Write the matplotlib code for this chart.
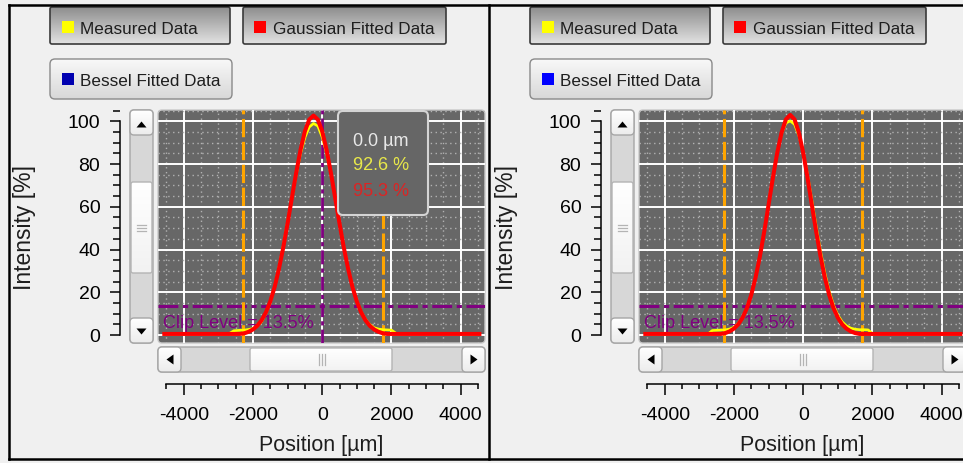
import matplotlib
matplotlib.use('Agg')
import matplotlib.pyplot as plt
import numpy as np
from matplotlib.patches import FancyBboxPatch, Polygon
from matplotlib.colors import LinearSegmentedColormap
from matplotlib.ticker import MultipleLocator

plt.rcParams['font.family'] = ['Liberation Sans', 'DejaVu Sans']
plt.rcParams['axes.unicode_minus'] = False

# Canvas size in pixels
W, H = 963, 463
DPI = 100

PANEL_BG = '#f0f0f0'
PLOT_BG = '#676767'
TEXT = '#1e1e1e'
YELLOW = '#ffff00'
RED = '#ff0000'
PURPLE = '#800080'
ORANGE = '#ffa500'

# Legend entries
legend_labels = ['Measured Data', 'Gaussian Fitted Data', 'Bessel Fitted Data']

# Axis ticks
x_ticks = [-4000, -2000, 0, 2000, 4000]
y_ticks = [0, 20, 40, 60, 80, 100]
XLIM = (-4742, 4702)
YLIM = (-3.74, 105.3)

clip_level = 13.5
cursor_pos = 0.0

# Left profile: fitted gaussian
pos_fit_l = [-4560, -2375, -2250, -2125, -2000, -1875, -1750, -1625, -1500, -1375,
             -1250, -1125, -1000, -875, -750, -625, -500, -375, -250, -125,
             0, 125, 250, 375, 500, 625, 750, 875, 1000, 1125,
             1250, 1375, 1500, 1625, 1750, 1875, 4540]
gauss_l = [0.5, 0.5, 0.8, 1.5, 2.6, 4.3, 6.9, 10.6, 15.7, 22.4,
           30.9, 40.9, 52.2, 64.2, 76.0, 86.7, 95.3, 100.8, 102.7, 100.8,
           95.3, 86.7, 76.0, 64.2, 52.2, 40.9, 30.9, 22.4, 15.7, 10.6,
           6.9, 4.3, 2.6, 1.5, 0.8, 0.5, 0.5]

# Left profile: measured
pos_meas_l = [-4560, -2700, -2550, -2375, -2250, -2125, -2000, -1875, -1750, -1625,
              -1500, -1375, -1250, -1125, -1000, -875, -750, -625, -500, -375,
              -250, -125, 0, 125, 250, 375, 500, 625, 750, 875,
              1000, 1125, 1250, 1375, 1500, 1625, 1750, 1875, 2000, 2150, 4540]
meas_l = [0.4, 0.5, 2.0, 2.2, 2.3, 2.6, 3.0, 4.1, 6.3, 10.2,
          15.4, 22.6, 31.5, 41.6, 52.8, 64.0, 75.2, 85.0, 92.4, 97.3,
          99.0, 97.8, 92.6, 85.3, 75.6, 64.4, 52.6, 41.3, 31.2, 22.8,
          15.9, 10.9, 7.3, 4.9, 3.4, 2.8, 2.5, 2.4, 2.3, 0.6, 0.4]

# Right profile: fitted gaussian
pos_fit_r = [-4560, -2500, -2375, -2250, -2125, -2000, -1875, -1750, -1625, -1500,
             -1375, -1250, -1125, -1000, -875, -750, -625, -500, -375, -250,
             -125, 0, 125, 250, 375, 500, 625, 750, 875, 1000,
             1125, 1250, 1375, 1500, 1625, 1750, 4540]
gauss_r = [0.5, 0.5, 0.5, 0.9, 1.7, 3.0, 5.0, 8.1, 12.6, 18.8,
           26.9, 36.8, 48.4, 60.9, 73.6, 85.3, 94.7, 100.9, 103.0, 100.9,
           94.7, 85.3, 73.6, 60.9, 48.4, 36.8, 26.9, 18.8, 12.6, 8.1,
           5.0, 3.0, 1.7, 0.9, 0.5, 0.5, 0.5]

# Right profile: measured
pos_meas_r = [-4560, -2750, -2625, -2500, -2375, -2250, -2125, -2000, -1875, -1750,
              -1625, -1500, -1375, -1250, -1125, -1000, -875, -750, -625, -500,
              -375, -250, -125, 0, 125, 250, 375, 500, 625, 750,
              875, 1000, 1125, 1250, 1375, 1500, 1625, 1750, 1875, 2000, 4540]
meas_r = [0.4, 0.5, 2.1, 2.2, 2.3, 2.4, 2.8, 3.6, 5.4, 8.3,
          12.5, 18.6, 26.7, 36.9, 48.6, 61.2, 74.0, 85.6, 94.3, 99.2,
          100.2, 98.6, 93.4, 85.4, 75.0, 63.1, 50.8, 39.2, 29.0, 20.6,
          14.0, 9.3, 6.2, 4.3, 3.2, 2.7, 2.5, 2.5, 2.4, 0.6, 0.4]

# Beam width markers
edges_l = [-2275, 1750]
edges_r = [-2285, 1690]


def fig_rect(x0, y0, x1, y1):
    return [x0 / W, 1 - y1 / H, (x1 - x0) / W, (y1 - y0) / H]


def rrect(ax, x0, y0, x1, y1, fc, ec, lw=1.0, r=4, z=1):
    p = FancyBboxPatch((x0, y0), x1 - x0, y1 - y0,
                       boxstyle=f'round,pad=0,rounding_size={r}',
                       fc=fc, ec=ec, lw=lw, zorder=z)
    ax.add_patch(p)
    return p


def grad_rect(ax, x0, y0, x1, y1, c_top, c_bot, ec, lw=1.0, r=4, z=1):
    p = rrect(ax, x0, y0, x1, y1, 'none', ec, lw=lw, r=r, z=z + 0.1)
    cmap = LinearSegmentedColormap.from_list('btn', [c_top, c_bot])
    im = ax.imshow(np.linspace(0, 1, 64).reshape(-1, 1), cmap=cmap,
                   extent=(x0, x1, y1, y0), origin='upper', aspect='auto',
                   interpolation='bilinear', zorder=z)
    im.set_clip_path(p)
    return p


def legend_buttons(bg, dx, blue):
    grad_rect(bg, 50 + dx, 7, 230 + dx, 44, '#8e8e8e', '#e2e2e2', '#3a3a3a', lw=1.2, r=2)
    grad_rect(bg, 243 + dx, 7, 446 + dx, 44, '#8e8e8e', '#e2e2e2', '#3a3a3a', lw=1.2, r=2)
    grad_rect(bg, 50 + dx, 59, 232 + dx, 99, '#f8f8f8', '#d8d8d8', '#8a8a8a', lw=1.0, r=5)
    swatches = [(62, 21, YELLOW), (254, 21, RED), (62, 73, blue)]
    for (sx, sy, c) in swatches:
        bg.add_patch(plt.Rectangle((sx + dx, sy), 12, 12, fc=c, ec='none', zorder=3))
    text_pos = [(80, 29), (273, 29), (80, 81)]
    for (tx, ty), lab in zip(text_pos, legend_labels):
        bg.text(tx + dx, ty, lab, fontsize=12.3, color=TEXT, va='center', ha='left', zorder=3)


def scrollbars(bg, dx):
    # vertical
    rrect(bg, 130 + dx, 110, 153 + dx, 343, '#d7d7d7', '#a6a6a6', r=4, z=1)
    grad_rect(bg, 130 + dx, 110, 153 + dx, 135, '#ffffff', '#ececec', '#a6a6a6', r=4, z=1.2)
    grad_rect(bg, 130 + dx, 318, 153 + dx, 343, '#ffffff', '#ececec', '#a6a6a6', r=4, z=1.2)
    grad_rect(bg, 131 + dx, 182, 152 + dx, 273, '#ffffff', '#f2f2f2', '#b4b4b4', r=2, z=1.2)
    for gy in (224.5, 227.5, 230.5):
        bg.plot([137 + dx, 146 + dx], [gy, gy], color='#b4b4b4', lw=0.9, zorder=1.5)
    bg.add_patch(Polygon([(136.5 + dx, 127.5), (146.5 + dx, 127.5), (141.5 + dx, 121.5)],
                         closed=True, fc='black', ec='none', zorder=1.5))
    bg.add_patch(Polygon([(136.5 + dx, 328.5), (146.5 + dx, 328.5), (141.5 + dx, 334.5)],
                         closed=True, fc='black', ec='none', zorder=1.5))
    # horizontal
    rrect(bg, 158 + dx, 347, 485 + dx, 372, '#d7d7d7', '#a6a6a6', r=4, z=1)
    grad_rect(bg, 158 + dx, 347, 181 + dx, 372, '#ffffff', '#ececec', '#a6a6a6', r=4, z=1.2)
    grad_rect(bg, 462 + dx, 347, 485 + dx, 372, '#ffffff', '#ececec', '#a6a6a6', r=4, z=1.2)
    grad_rect(bg, 250 + dx, 348, 392 + dx, 371, '#ffffff', '#f2f2f2', '#b4b4b4', r=2, z=1.2)
    for gx in (319, 322, 325):
        bg.plot([gx + dx, gx + dx], [354, 365], color='#b4b4b4', lw=0.9, zorder=1.5)
    bg.add_patch(Polygon([(173.5 + dx, 354.5), (173.5 + dx, 364.5), (166.5 + dx, 359.5)],
                         closed=True, fc='black', ec='none', zorder=1.5))
    bg.add_patch(Polygon([(470.5 + dx, 354.5), (470.5 + dx, 364.5), (477.5 + dx, 359.5)],
                         closed=True, fc='black', ec='none', zorder=1.5))


def profile(fig, bg, dx, pos_fit, gauss, pos_meas, meas, edges, cursor):
    rrect(bg, 158 + dx, 110, 485 + dx, 343, PLOT_BG, '#c8c8c8', lw=1.0, r=4, z=1)

    ax = fig.add_axes(fig_rect(158 + dx, 110, 485 + dx, 343))
    ax.set_zorder(2)
    ax.patch.set_visible(False)
    ax.set_xlim(*XLIM)
    ax.set_ylim(*YLIM)
    for s in ax.spines.values():
        s.set_visible(False)
    ax.set_xticks(x_ticks)
    ax.set_yticks(y_ticks)
    ax.xaxis.set_minor_locator(MultipleLocator(500))
    ax.yaxis.set_minor_locator(MultipleLocator(5))
    ax.tick_params(which='both', length=0, labelbottom=False, labelleft=False)
    ax.grid(which='minor', color='#b2b2b2', lw=1.0, ls=(0, (1, 2.5)))
    ax.grid(which='major', color='white', lw=1.4)

    ax.axhline(clip_level, color=PURPLE, lw=2.2, dashes=(6.5, 1.5, 1.7, 1.5), zorder=2.5)
    for e in edges:
        ax.axvline(e, color=ORANGE, lw=2.2, dashes=(6, 1.5), zorder=2.6)
    if cursor:
        ax.axvline(cursor_pos, color=PURPLE, lw=2.0, dashes=(5, 1.5, 1.5, 1.5), zorder=2.7)
    ax.text(-4600, 5.6, f'Clip Level = {clip_level}%', color=PURPLE, fontsize=13,
            va='center', ha='left', zorder=2.8)

    ax.plot(pos_meas, meas, color=YELLOW, lw=1.9, zorder=3)
    ax.plot(pos_fit, gauss, color=RED, lw=2.9, zorder=4)

    # intensity ruler
    yr = fig.add_axes(fig_rect(120 + dx, 110, 121 + dx, 343))
    yr.patch.set_visible(False)
    yr.set_ylim(*YLIM)
    for k in ('top', 'right', 'bottom'):
        yr.spines[k].set_visible(False)
    yr.spines['left'].set_bounds(0, 100)
    yr.spines['left'].set_linewidth(1.1)
    yr.set_xticks([])
    yr.set_yticks(y_ticks)
    yr.set_yticklabels([str(t) for t in y_ticks])
    yr.yaxis.set_minor_locator(MultipleLocator(5))
    yr.tick_params(axis='y', which='major', length=7.2, width=1.1, pad=7, labelsize=14)
    yr.tick_params(axis='y', which='minor', length=5, width=1.1)

    # position ruler
    xr = fig.add_axes(fig_rect(158 + dx, 383, 485 + dx, 384))
    xr.patch.set_visible(False)
    xr.set_xlim(*XLIM)
    for k in ('top', 'right', 'left'):
        xr.spines[k].set_visible(False)
    xr.spines['bottom'].set_bounds(-4500, 4500)
    xr.spines['bottom'].set_linewidth(1.1)
    xr.set_yticks([])
    xr.set_xticks(x_ticks)
    xr.set_xticklabels([str(t) for t in x_ticks])
    xr.xaxis.set_minor_locator(MultipleLocator(500))
    xr.tick_params(axis='x', which='major', length=7.9, width=1.1, pad=8.5, labelsize=14)
    xr.tick_params(axis='x', which='minor', length=3.6, width=1.1)

    bg.text(25 + dx, 227, 'Intensity [%]', rotation=90, fontsize=16.5, color=TEXT,
            ha='center', va='center')
    bg.text(321 + dx, 446, 'Position [µm]', fontsize=15.5, color=TEXT,
            ha='center', va='center')
    return ax


fig = plt.figure(figsize=(W / DPI, H / DPI), dpi=DPI, facecolor=PANEL_BG)
bg = fig.add_axes([0, 0, 1, 1])
bg.set_zorder(0)
bg.set_facecolor(PANEL_BG)
bg.set_autoscale_on(False)
bg.set_xlim(0, W)
bg.set_ylim(H, 0)
bg.axis('off')

legend_buttons(bg, 0, '#0000b0')
legend_buttons(bg, 480, '#0000ff')
scrollbars(bg, 0)
scrollbars(bg, 481)
profile(fig, bg, 0, pos_fit_l, gauss_l, pos_meas_l, meas_l, edges_l, True)
profile(fig, bg, 481, pos_fit_r, gauss_r, pos_meas_r, meas_r, edges_r, False)

# overlay: tooltip and panel frames
top = fig.add_axes([0, 0, 1, 1])
top.set_zorder(5)
top.patch.set_visible(False)
top.set_autoscale_on(False)
top.set_xlim(0, W)
top.set_ylim(H, 0)
top.axis('off')

i0 = pos_meas_l.index(0)
j0 = pos_fit_l.index(0)
rrect(top, 338, 111, 428, 215, '#666666', '#d4d4d4', lw=1.5, r=5, z=1)
top.text(353, 141, f'{cursor_pos:.1f} µm', fontsize=13, color='#e8e8e8', va='center', zorder=2)
top.text(353, 166, f'{meas_l[i0]:.1f} %', fontsize=13, color='#e8e84a', va='center', zorder=2)
top.text(353, 191, f'{gauss_l[j0]:.1f} %', fontsize=13, color='#dc2424', va='center', zorder=2)

for xs, ys in [((9, 9), (5, 459)), ((489, 489), (5, 459)), ((9, W), (5, 5)), ((9, W), (459, 459))]:
    top.plot(xs, ys, color='black', lw=1.8, zorder=3, solid_capstyle='projecting')

fig.savefig('out.png', dpi=DPI, facecolor=PANEL_BG)
